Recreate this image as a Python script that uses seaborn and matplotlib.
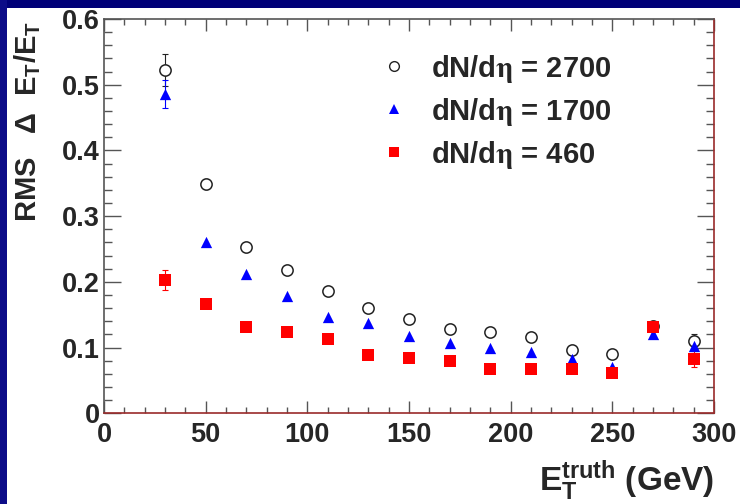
import numpy as np
import pandas as pd
import matplotlib
matplotlib.use("Agg")
import matplotlib.pyplot as plt
import seaborn as sns
from matplotlib.ticker import MultipleLocator
from matplotlib.patches import Rectangle
from matplotlib.font_manager import FontProperties

# ---- data ----
et_truth = [30, 50, 70, 90, 110, 130, 150, 170, 190, 210, 230, 250, 270, 290]
rms_2700 = [0.522, 0.349, 0.253, 0.218, 0.186, 0.160, 0.143, 0.128, 0.123, 0.116, 0.097, 0.090, 0.133, 0.110]
err_2700 = [0.024, 0.008, 0.0, 0.0, 0.0, 0.0, 0.0, 0.0, 0.0, 0.0, 0.0, 0.0, 0.0, 0.010]
rms_1700 = [0.486, 0.261, 0.212, 0.178, 0.147, 0.137, 0.118, 0.107, 0.099, 0.093, 0.082, 0.071, 0.120, 0.102]
err_1700 = [0.021, 0.0, 0.0, 0.0, 0.0, 0.0, 0.0, 0.0, 0.0, 0.0, 0.0, 0.0, 0.0, 0.006]
rms_460 = [0.203, 0.167, 0.131, 0.124, 0.113, 0.089, 0.084, 0.079, 0.068, 0.067, 0.067, 0.061, 0.132, 0.083]
err_460 = [0.015, 0.0, 0.0, 0.0, 0.0, 0.0, 0.0, 0.0, 0.0, 0.0, 0.0, 0.0, 0.0, 0.012]
labels = ["dN/d$\\eta$ = 2700", "dN/d$\\eta$ = 1700", "dN/d$\\eta$ = 460"]

sns.set_style("ticks")
plt.rcParams["font.family"] = ["Liberation Sans", "DejaVu Sans"]
plt.rcParams["font.weight"] = "bold"
plt.rcParams["mathtext.fontset"] = "custom"
plt.rcParams["mathtext.rm"] = "Liberation Sans:bold"
plt.rcParams["mathtext.it"] = "Liberation Sans:bold"
plt.rcParams["mathtext.bf"] = "Liberation Sans:bold"
plt.rcParams["mathtext.default"] = "rm"

fig = plt.figure(figsize=(7.4, 5.04), dpi=100)
fig.patch.set_facecolor("white")
ax = fig.add_axes([104 / 740, 1 - 413.3 / 504, 610 / 740, (413.3 - 19) / 504])

# navy frame strips
fig.patches.append(Rectangle((0, 496 / 504), 1, 8 / 504, transform=fig.transFigure,
                             facecolor="#000078", edgecolor="none", zorder=0))
fig.patches.append(Rectangle((0, 0), 7 / 740, 1, transform=fig.transFigure,
                             facecolor="#0c0c88", edgecolor="none", zorder=0))

series = [
    (rms_2700, err_2700, "o", "#222222", labels[0]),
    (rms_1700, err_1700, "^", "#0000ff", labels[1]),
    (rms_460, err_460, "s", "#ff0000", labels[2]),
]
handles = []
for i, (vals, errs, mk, col, lab) in enumerate(series):
    df = pd.DataFrame({"x": et_truth, "y": vals, "e": errs})
    sub = df[df["e"] > 0]
    ax.errorbar(sub["x"], sub["y"], yerr=sub["e"], fmt="none", ecolor=col, elinewidth=0.8,
                capsize=2, capthick=0.8, zorder=2)
    sns.scatterplot(data=df, x="x", y="y", marker=mk, s=66, color=col, ax=ax,
                    legend=False, zorder=3 + i, linewidth=0 if mk != "o" else 1.1)
    coll = ax.collections[-1]
    if mk == "o":
        coll.set_facecolor("white")
        coll.set_edgecolor(col)
        coll.set_linewidth(1.1)
    h = plt.Line2D([], [], linestyle="none", marker=mk, markersize=7,
                   markerfacecolor="none" if mk == "o" else col,
                   markeredgecolor=col, markeredgewidth=1.0 if mk == "o" else 0)
    handles.append(h)

ax.set_xlim(0, 300)
ax.set_ylim(0, 0.6)
ax.xaxis.set_major_locator(MultipleLocator(50))
ax.xaxis.set_minor_locator(MultipleLocator(10))
ax.yaxis.set_major_locator(MultipleLocator(0.1))
ax.yaxis.set_minor_locator(MultipleLocator(0.02))
ax.yaxis.set_major_formatter(matplotlib.ticker.FuncFormatter(lambda v, p: "0" if abs(v) < 1e-9 else f"{v:.1f}"))

ax.tick_params(axis="both", which="both", direction="in", top=True, right=True, color="#555555")
ax.tick_params(axis="y", which="major", length=12, width=1.0, pad=3, labelsize=19.5)
ax.tick_params(axis="y", which="minor", length=6, width=1.0)
ax.tick_params(axis="x", which="major", length=8.5, width=1.0, pad=6, labelsize=19.5)
ax.tick_params(axis="x", which="minor", length=4.5, width=1.0)
for t in ax.get_xticklabels() + ax.get_yticklabels():
    t.set_fontweight("bold")

for side in ["left", "top"]:
    ax.spines[side].set_color("#555555")
    ax.spines[side].set_linewidth(1.2)
for side in ["bottom", "right"]:
    ax.spines[side].set_color("#9a2a2a")
    ax.spines[side].set_linewidth(1.2)

ax.set_ylabel("RMS   Δ  E$_T$/E$_T$", fontsize=21, fontweight="bold", loc="top")
ax.yaxis.set_label_coords(-0.1, 0.995)
ax.set_xlabel("E$_T^{truth}$ (GeV)", fontsize=24, fontweight="bold", loc="right")
ax.xaxis.set_label_coords(1.0, -0.115)

leg_prop = FontProperties(family="Liberation Sans", weight="bold", size=21, math_fontfamily="stix")
leg = ax.legend(handles, labels, loc="upper left", bbox_to_anchor=(0.452, 0.915),
                frameon=False, prop=leg_prop, handlelength=1.0, handletextpad=0.75,
                labelspacing=0.38, borderpad=0, borderaxespad=0)

fig.savefig("out.png", dpi=100, facecolor="white")
